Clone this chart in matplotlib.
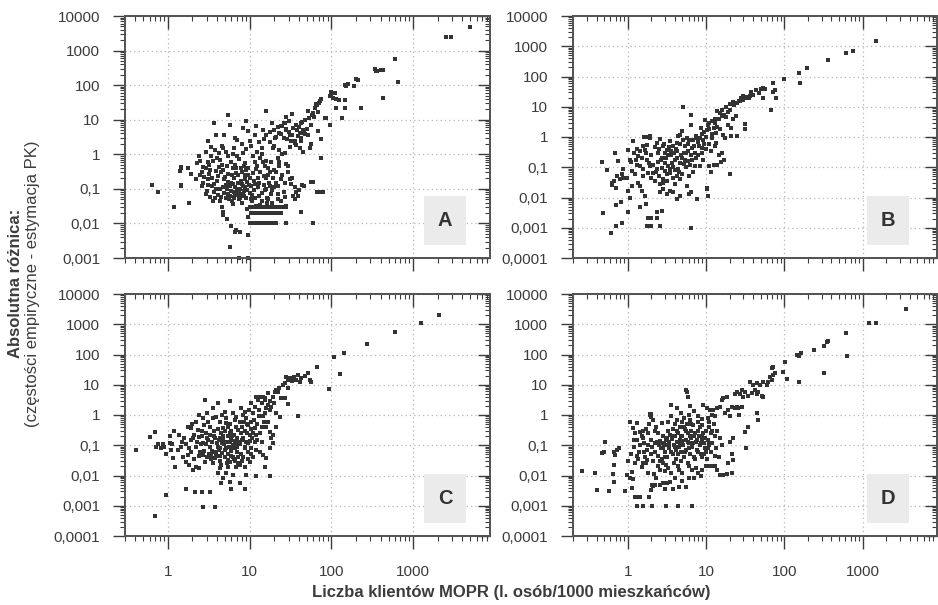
import numpy as np
import matplotlib
matplotlib.use('Agg')
from matplotlib import pyplot as plt
from matplotlib import ticker
from matplotlib.patches import Rectangle

plt.rcParams['font.family'] = ['Liberation Sans', 'DejaVu Sans']

# ---- dane: (liczba klientów MOPR, absolutna różnica) ----
panel_a = [
    # ogon
    (4900, 4700), (2500, 2500), (2900, 2400), (600, 570), (660, 120), (340, 300), (360, 260),
    (400, 280), (430, 270), (350, 250), (430, 43), (200, 150), (210, 140), (190, 92), (160, 110),
    (145, 100), (150, 95), (230, 22), (135, 11), (145, 22), (115, 22), (110, 59), (100, 49),
    (105, 43), (100, 65), (95, 48), (115, 40), (125, 38), (145, 36), (95, 7), (85, 11), (75, 40),
    (72, 35), (70, 31), (75, 2.7), (75, 0.8), (78, 0.08),
    # pas górny
    (19.3, 1.55), (20.5, 3), (23, 4.2), (24.5, 6.5), (27, 8.1), (28, 5.2), (31, 3.7), (34, 5.9),
    (37, 7.2), (39, 3.4), (41, 4.2), (45, 5.2), (43, 8.1), (47, 10), (35.5, 2.1), (41, 1.55),
    (43, 2.4), (52, 3.7), (54, 11), (60, 16), (66, 27), (72, 34), (63, 22), (52, 17.5), (57, 7.2),
    (69, 4.7), (83, 11), (65, 28), (58, 14), (62, 12), (68, 17), (50, 5.5), (44, 8.5),
    (40, 6), (38, 5), (33, 3.5), (30, 4.5), (28, 5.5), (25, 6.5), (22, 6), (24, 3.8), (26, 3.0),
    (29, 2.8), (32, 2.4), (36, 2.5), (42, 3.0), (46, 4.0), (47, 3.8), (55, 1.5), (57, 2.0),
    (45, 1.2), (37, 1.9), (31, 1.6), (27, 1.1), (23, 1.3), (16, 18), (12, 6.5), (14.5, 5.2),
    (15, 2.7), (14, 1.55), (9.1, 9.1), (9.5, 4.7), (8.3, 5.8), (5.4, 14), (4.9, 3.7), (5.8, 7.2),
    (6.6, 3.0), (3.7, 8.1), (3.9, 3.5), (3.1, 2.4), (4.6, 1.7), (4.7, 1.55), (28, 12), (33, 15),
    (30, 9), (26, 8), (18, 2.2), (20, 5), (21, 3.2),
    (6.5, 1.5), (8, 2), (10, 2.5), (11.5, 3.5), (13, 2.2), (16, 3.5), (18, 4.5), (19, 8),
    (7, 2.6), (4.2, 1.1), (3.4, 1.6),
    # skupisko
    (0.64, 0.13), (0.77, 0.08), (1.2, 0.03), (1.8, 0.04), (1.45, 0.39), (1.47, 0.44), (1.46, 0.13),
    (1.45, 0.12), (1.43, 0.33), (1.75, 0.39), (1.9, 0.27), (2.2, 0.19), (2.5, 0.64), (2.7, 0.44),
    (2.9, 0.39), (3.1, 0.58), (3.2, 0.48), (3.2, 0.27), (3.1, 0.19), (3.1, 0.13),
    (4.0, 0.77), (4.2, 0.44), (3.9, 0.33), (4.1, 0.24), (4.0, 0.17), (4.3, 0.1), (4.5, 0.058),
    (4.6, 0.03), (4.7, 0.021), (4.8, 0.018), (5.4, 0.9), (6.0, 0.58), (6.2, 0.39), (5.4, 0.27),
    (4.9, 0.19), (6.0, 0.15), (5.3, 0.1), (5.8, 0.063), (6.2, 0.036), (5.3, 0.013), (6.0, 0.0087),
    (6.9, 0.0063), (6.6, 0.0056), (7.6, 0.0056), (5.7, 0.0021), (7.4, 0.001), (9.7, 0.001),
    (9.7, 0.0045), (7.5, 0.72), (8.2, 1.1), (8.6, 0.46), (8.0, 0.3), (8.9, 0.19), (8.3, 0.12),
    (9.2, 0.09), (8.6, 0.063), (8.0, 0.04), (9.3, 0.026), (9.6, 0.015),
    (10.5, 1.7), (11, 0.9), (11.5, 0.58), (12, 0.37), (12.6, 0.21), (11.8, 0.14), (11.2, 0.09),
    (13, 0.063), (10.5, 0.051), (12, 0.033), (14, 1.0), (16, 0.65), (17, 0.41), (15, 0.24),
    (17.5, 0.15), (16, 0.1), (18.5, 0.07), (17, 0.051), (20, 1.7), (22, 0.8), (23, 0.46), (21, 0.3),
    (24.5, 0.19), (22, 0.12), (26, 0.08), (27, 0.057), (23, 0.58), (25, 1.0), (28, 0.51),
    (29.5, 0.3), (31, 0.19), (32, 0.14), (34, 0.063), (35.5, 0.051), (37, 0.08), (39, 0.063),
    (28, 0.033), (29.5, 0.46), (42, 0.021), (59, 0.0105), (44, 0.13), (46, 0.12), (57, 0.155),
    (60, 0.155), (66, 0.08), (75, 0.08),
    (3.4, 0.9), (3.6, 0.65), (3.5, 0.12), (3.7, 0.08), (3.8, 0.055), (4.4, 0.7), (4.6, 0.5),
    (4.8, 0.35), (5.0, 0.22), (5.1, 0.13), (5.5, 0.07), (5.6, 0.05), (6.1, 0.045), (6.4, 0.06),
    (6.5, 0.08), (6.7, 0.11), (6.4, 0.2), (6.8, 0.28), (6.6, 0.5), (7.0, 0.9), (7.2, 0.15),
    (7.0, 0.065), (7.4, 0.05), (7.8, 0.07), (7.6, 0.1), (7.9, 0.17), (8.8, 0.55), (9.0, 0.35),
    (9.5, 0.25), (9.8, 0.13), (10.2, 0.075), (10.8, 0.045), (2.4, 0.9), (2.6, 0.3), (2.8, 0.22),
    (2.6, 0.12), (3.0, 0.085), (3.3, 0.06), (3.6, 0.045), (2.9, 1.2), (3.8, 1.3), (5.2, 1.2),
    (6.3, 1.0), (9.0, 1.4), (12.5, 1.2), (13.5, 0.8), (15.5, 0.45), (18, 0.3), (19.5, 0.2),
    (20, 0.11), (22.5, 0.07), (24, 0.045), (14, 0.045), (13.5, 0.035), (16.5, 0.04), (19, 0.04),
    (25, 0.25), (27, 0.15), (33, 0.21), (36, 0.11), (40, 0.09),
    (2.3, 0.55), (2.5, 0.25), (2.7, 0.15), (2.9, 0.07), (3.3, 0.35), (3.5, 0.2), (3.7, 0.14),
    (3.9, 0.1), (4.1, 0.065), (4.3, 0.045), (4.5, 0.3), (4.7, 0.11), (4.9, 0.075), (5.1, 0.055),
    (5.3, 0.45), (5.5, 0.16), (5.7, 0.12), (5.9, 0.085), (6.1, 0.25), (6.3, 0.14), (6.5, 0.055),
    (6.7, 0.075), (6.9, 0.4), (7.1, 0.1), (7.3, 0.25), (7.5, 0.085), (7.7, 0.055), (7.9, 0.4),
    (8.1, 0.14), (8.3, 0.065), (8.5, 0.085), (8.7, 0.25), (8.9, 0.11), (9.1, 0.055), (9.4, 0.16),
    (9.7, 0.4), (10, 0.21), (10.3, 0.12), (10.6, 0.065), (11, 0.28), (11.4, 0.17), (11.8, 0.055),
    (12.2, 0.45), (12.6, 0.11), (13, 0.15), (13.5, 0.3), (14, 0.075), (14.5, 0.6), (15, 0.13),
    (15.5, 0.09), (16, 0.2), (16.5, 0.055), (17, 0.25), (18, 0.12), (18.5, 0.6), (19, 0.09),
    (20, 0.35), (21, 0.15), (22, 0.05),
    # rzędy 0,01 / 0,02 / 0,03
    (10, 0.01), (10.8, 0.01), (11.6, 0.01), (12.4, 0.01), (13.3, 0.01), (14.2, 0.01),
    (15.2, 0.01), (16.3, 0.01), (17.4, 0.01), (18.6, 0.01), (20, 0.01), (21, 0.01), (28, 0.01),
    (10.5, 0.02), (11.3, 0.02), (12.2, 0.02), (13.1, 0.02), (14.1, 0.02), (15.2, 0.02),
    (16.4, 0.02), (17.7, 0.02), (19, 0.02), (20.5, 0.02), (22, 0.02), (24.5, 0.02),
    (10, 0.03), (10.8, 0.03), (11.7, 0.03), (12.6, 0.03), (13.6, 0.03), (14.7, 0.03),
    (15.9, 0.03), (17.2, 0.03), (18.6, 0.03), (20, 0.03), (21.6, 0.03), (23.3, 0.03),
    (25, 0.03), (28, 0.03),
]

panel_b = [
    (1480, 1500), (760, 720), (610, 620), (360, 355), (196, 188), (155, 135), (158, 59), (98, 83),
    (72, 60), (78, 19), (68, 7.6), (72, 30), (75, 35), (54, 41), (57, 38), (54, 19), (47, 28),
    (40, 25), (36, 22), (33, 19), (30, 17), (27, 15), (25, 13), (23, 11), (33, 21), (35, 19),
    (31.6, 2.6), (31.6, 1.8), (21, 1.1), (25, 1.1), (20, 0.06),
    (0.47, 0.15), (0.55, 0.079), (0.49, 0.003), (0.61, 0.00065), (0.7, 0.0011), (0.84, 0.0014),
    (0.69, 0.3), (0.75, 0.16), (0.63, 0.031), (0.63, 0.025), (0.66, 0.035), (0.72, 0.051),
    (0.84, 0.059), (0.8, 0.04), (0.71, 0.021), (0.88, 0.045), (0.71, 0.0058), (0.81, 0.0069),
    (0.88, 0.089), (0.97, 0.045), (1.02, 0.38), (1.07, 0.18), (1.12, 0.076), (1.15, 0.024),
    (1.02, 0.017), (1.07, 0.01), (1.0, 0.0032), (1.18, 0.76), (1.29, 0.18), (1.31, 0.115),
    (1.44, 0.11), (1.37, 0.23), (1.5, 0.2), (1.58, 0.49), (1.66, 0.38), (1.74, 0.56), (1.9, 1.1),
    (1.78, 0.18), (1.93, 0.11), (1.84, 0.066), (1.58, 0.051), (1.44, 0.024), (1.5, 0.017),
    (1.66, 0.011), (1.69, 0.006), (1.44, 0.0048), (1.84, 0.0021), (2.0, 0.0021), (2.35, 0.0021),
    (1.74, 0.0011), (2.0, 0.0011), (2.6, 0.0011), (2.35, 0.0032), (2.75, 0.0036),
    (2.59, 0.86), (2.34, 0.64), (2.85, 0.49), (2.46, 0.3), (3.15, 0.38), (3.47, 0.72),
    (3.83, 0.49), (4.22, 0.64), (4.43, 1.05), (4.89, 1.53), (5.14, 0.82), (5.66, 0.93),
    (5.4, 0.49), (5.95, 0.34), (6.56, 0.44), (6.89, 0.82), (7.6, 0.93), (8.38, 0.93),
    (9.25, 0.82), (8.8, 0.44), (9.7, 3.7), (10.2, 1.74), (9.25, 0.18), (8.38, 0.11),
    (7.24, 0.11), (6.56, 0.18), (5.95, 0.16), (5.4, 0.18), (4.66, 0.14), (4.22, 0.2),
    (4.02, 0.18), (3.65, 0.14), (3.3, 0.11), (3.0, 0.14), (2.72, 0.096), (2.34, 0.085),
    (2.13, 0.066), (2.23, 0.035), (2.59, 0.027), (2.85, 0.04), (3.15, 0.059), (3.47, 0.066),
    (3.83, 0.045), (4.22, 0.051), (4.66, 0.04), (4.02, 0.027), (3.47, 0.017), (3.15, 0.013),
    (2.85, 0.019), (2.59, 0.015), (3.83, 0.015), (4.22, 0.0089), (4.66, 0.011), (5.66, 0.024),
    (6.37, 0.015), (7.6, 0.0089), (10.2, 0.021), (10.5, 0.0108), (5.14, 10), (6.37, 5.4),
    (4.66, 1.2), (6.37, 2.5),
    (16, 5), (17, 5.5), (18, 4.5), (19, 6.5), (20, 8), (14, 7), (15, 6), (13, 4), (12, 3.5),
    (11, 3), (10.5, 2.5), (12.5, 2), (14, 2.2), (15, 1.8), (16.5, 1.2), (17.5, 0.9), (13.5, 1.4),
    (12, 0.9), (11, 0.6), (11.5, 0.35), (13, 0.5), (14.5, 0.25), (15.5, 0.15), (12.5, 0.12),
    (11, 0.11), (17, 0.18), (13.5, 0.65), (9, 1.3), (8.5, 2), (7.5, 1.1), (8, 0.7), (10, 1.0),
    (9.5, 0.6), (19, 2.5), (22, 4), (24, 5), (21, 2), (16, 0.3), (14, 0.12), (10, 0.4),
    (11.5, 0.07), (10.2, 0.019), (7.6, 0.009), (6.4, 0.001), (6, 0.0126),
    (1.6, 1.0), (1.75, 1.0), (1.93, 0.9), (1.2, 0.3), (1.3, 0.4), (1.45, 0.35),
    (2.0, 0.25), (2.2, 0.45), (2.4, 0.15), (2.7, 0.2), (3.0, 0.3), (3.3, 0.25), (3.6, 0.35),
    (3.9, 0.3), (4.3, 0.35), (4.8, 0.25), (5.2, 0.3), (5.8, 0.6), (6.2, 0.12), (6.8, 0.07),
    (7.2, 0.3), (8.0, 0.25), (2.0, 0.045), (2.5, 0.05), (3.0, 0.075), (3.5, 0.09), (4.0, 0.08),
    (4.5, 0.07), (5.0, 0.06), (5.5, 0.1), (6.0, 0.05), (3.2, 0.035), (2.8, 0.03),
    (1.1, 0.15), (1.25, 0.06), (1.35, 0.03), (1.55, 0.09), (1.7, 0.3), (1.85, 0.14),
    (2.1, 0.12), (2.3, 0.07), (2.5, 0.4), (2.65, 0.18), (2.9, 0.6), (3.1, 0.2), (3.4, 0.45),
    (3.6, 0.25), (3.8, 0.1), (4.1, 0.4), (4.4, 0.09), (4.6, 0.6), (4.9, 0.2), (5.2, 0.13),
    (5.6, 0.3), (6.0, 0.8), (6.5, 0.25), (7.0, 0.5), (7.5, 0.2), (8.2, 0.5), (9.0, 0.3),
    (9.5, 1.5), (11, 1.8), (12, 1.3), (13, 2.8), (14.5, 4), (16, 8), (18, 10), (20, 12),
    (22, 14), (26, 16), (28, 20), (30, 22), (38, 30), (44, 35), (50, 40),
]

panel_c = [
    (0.41, 0.07), (0.61, 0.187), (0.69, 0.27), (0.76, 0.107), (0.87, 0.107), (0.89, 0.085),
    (0.95, 0.051), (1.07, 0.2), (1.13, 0.107), (1.15, 0.037), (1.23, 0.0186), (1.33, 0.07),
    (1.46, 0.09), (1.39, 0.22), (1.6, 0.17), (1.68, 0.107), (1.76, 0.048), (1.84, 0.079),
    (1.93, 0.149), (2.02, 0.17), (2.12, 0.22), (1.93, 0.36), (1.76, 0.39), (2.22, 0.6),
    (2.33, 0.32), (2.44, 0.19), (2.56, 0.107), (2.68, 0.78), (2.81, 0.47), (2.95, 0.25),
    (3.09, 0.149), (3.24, 0.09), (2.73, 0.048), (2.89, 0.029), (2.44, 0.0172), (2.22, 0.0195),
    (2.02, 0.0152), (1.84, 0.023), (1.68, 0.029), (1.53, 0.042), (3.39, 0.048), (3.56, 0.025),
    (3.73, 0.037), (3.91, 0.061), (4.1, 0.09), (4.29, 0.17), (4.5, 0.25), (4.71, 0.36),
    (4.29, 0.6), (3.91, 0.88), (3.56, 1.66), (4.1, 2.43), (4.94, 1.29), (5.18, 0.78),
    (5.43, 0.41), (5.69, 0.25), (5.97, 0.149), (6.25, 0.079), (4.94, 0.042), (4.5, 0.023),
    (4.29, 0.0172), (4.1, 0.0118), (4.71, 0.008), (4.5, 0.0055), (5.18, 0.0118), (5.43, 0.0195),
    (5.69, 0.029), (6.25, 0.042), (6.55, 0.079), (7.0, 0.17), (7.2, 0.32), (7.55, 0.6),
    (6.87, 0.88), (6.25, 1.14), (7.9, 1.66), (8.7, 1.29), (9.1, 0.78), (9.5, 0.47), (10, 0.22),
    (9.1, 0.131), (8.7, 0.079), (8.3, 0.042), (7.55, 0.023), (8.7, 0.0195), (9.1, 0.0104),
    (6.87, 0.0195), (6.25, 0.0104), (5.69, 0.0062), (5.97, 0.0037), (8.7, 0.0037),
    (7.55, 0.0055), (10, 0.029), (11, 0.042), (10.5, 0.079), (11.5, 0.131), (12.1, 0.22),
    (11.5, 0.36), (10.5, 0.6), (11, 1.14), (11.5, 1.89), (12.6, 3.13), (13.3, 4.0), (14.6, 4.0),
    (15.3, 3.13), (12.1, 4.0), (0.83, 0.079), (0.72, 0.09), (2.18, 0.0028), (2.63, 0.0028),
    (3.24, 0.0028), (2.68, 0.00093), (3.73, 0.00093), (1.68, 0.0037), (0.95, 0.00226),
    (0.69, 0.00047), (2.86, 3.13), (5.69, 2.98), (16, 0.39), (17.6, 0.28), (18.4, 0.17),
    (19.3, 0.22), (19.3, 0.116), (17.6, 0.079), (17.9, 0.0098), (12.1, 0.0098), (16, 0.037),
    (15.3, 0.0195), (14.6, 0.048), (13.3, 0.061), (16, 1.66), (16.8, 2.14), (17.6, 1.46),
    (18.4, 1.89), (19.3, 4.0), (20.2, 5.9), (22.2, 5.9), (23.3, 0.88), (21.2, 0.39),
    (24.4, 3.56), (26.8, 3.56), (29.7, 2.25), (25.6, 9.8), (29.5, 7.6), (28.1, 18.5),
    (29.5, 14.4), (30.9, 16.3), (36.6, 14.4), (40.9, 12.7), (42.9, 16.3), (39.1, 21),
    (39.1, 0.95), (51.8, 23.9), (54.3, 14.4), (56.9, 12.7), (66.1, 40), (93.6, 7.4),
    (126, 22.7), (109, 83), (143, 115), (271, 217), (603, 556), (1254, 1100), (2080, 1980),
    (2.3, 0.13), (2.6, 0.3), (2.9, 0.11), (3.1, 0.6), (3.3, 0.22), (3.5, 0.13), (3.7, 0.3),
    (3.8, 0.17), (4.0, 0.12), (4.2, 0.07), (4.4, 0.045), (4.6, 0.12), (4.8, 0.2), (5.0, 0.07),
    (5.2, 0.13), (5.4, 0.05), (5.6, 0.09), (5.8, 0.5), (6.0, 0.3), (6.4, 0.22), (6.8, 0.11),
    (7.0, 0.06), (7.4, 0.13), (7.8, 0.25), (8.0, 0.4), (8.4, 0.17), (8.8, 0.3), (9.3, 0.5),
    (9.7, 0.12), (10.3, 0.35), (10.8, 0.17), (11.2, 0.7), (12.5, 0.5), (13.5, 0.25), (14, 0.13),
    (14.5, 0.9), (13, 1.5), (15, 0.6), (3.4, 0.035), (3.8, 0.06), (4.4, 0.03), (5.3, 0.025),
    (6.0, 0.045), (6.6, 0.03), (7.2, 0.04), (8.0, 0.03), (9.5, 0.06), (2.5, 0.06), (2.8, 0.065),
    (3.0, 0.04), (3.6, 0.8), (4.6, 1.0), (5.2, 0.55), (6.6, 0.7), (8.2, 1.0), (9.8, 1.5),
    (10.5, 2.5), (2.0, 0.5), (2.4, 1.0), (3.0, 1.2), (1.9, 0.06), (2.1, 0.035), (1.5, 0.13),
    (1.2, 0.3), (1.1, 0.07), (1.05, 0.12), (14, 2.5), (15.5, 3.6), (17, 5.5), (21, 6.5),
    (23, 8), (27, 11), (33, 13), (35, 18), (47, 20),
    (2.2, 0.09), (2.4, 0.045), (2.6, 0.2), (2.7, 0.12), (3.0, 0.18), (3.2, 0.05), (3.3, 0.4),
    (3.5, 0.065), (3.7, 0.2), (3.9, 0.045), (4.1, 0.35), (4.2, 0.15), (4.4, 0.08),
    (4.6, 0.055), (4.7, 0.16), (4.9, 0.11), (5.0, 0.3), (5.2, 0.08), (5.4, 0.2), (5.5, 0.033),
    (5.7, 0.13), (5.9, 0.065), (6.1, 0.2), (6.2, 0.1), (6.5, 0.035), (6.7, 0.14), (6.9, 0.4),
    (7.1, 0.09), (7.3, 0.025), (7.6, 0.11), (7.8, 0.05), (8.1, 0.15), (8.5, 0.6), (8.9, 0.09),
    (9.2, 0.25), (9.6, 0.035), (10, 0.14), (10.4, 0.05), (11, 0.25), (12, 0.07), (12.5, 0.15),
    (13, 0.9), (14, 0.4), (15.5, 1.2), (17, 0.6), (18, 3), (20, 2.5), (21, 1.2),
]

panel_d = [
    (3575, 3150), (1217, 1100), (1480, 1100), (607, 530), (625, 92), (321, 25), (365, 290),
    (347, 250), (321, 190), (239, 138), (163, 115), (144, 96), (155, 92), (155, 12.6), (102, 58),
    (97, 27), (107, 16), (72.4, 40), (68.9, 35), (76, 24), (72.4, 21), (65.6, 18), (62.5, 12.7),
    (68.9, 14.4), (59.5, 10), (54, 12.7), (48.9, 10), (44.3, 11), (40.2, 10), (36.5, 12.7),
    (54, 4.0), (51.4, 4.4), (46.5, 5.9), (44.3, 4.8), (42.2, 6.5), (38.3, 5.2), (34.7, 4.4),
    (31.5, 5.9), (30, 4.0), (28.5, 6.5), (27.2, 4.8), (24.6, 5.9), (23.5, 4.8), (44.3, 1.14),
    (46.5, 0.68), (34.7, 0.41), (31.5, 0.27), (32.4, 0.083), (22.3, 0.17), (20.2, 0.131),
    (21.3, 0.05), (22.3, 0.032), (19.3, 0.025), (21.3, 0.0118), (18.4, 0.011), (16.6, 0.0104),
    (15.1, 0.0104),
    (10.2, 1.66), (11.2, 1.46), (12.4, 1.46), (13.7, 1.66), (15.1, 1.89), (15.8, 3.13),
    (16.6, 3.56), (18.4, 4.0), (19.3, 1.46), (21.3, 1.89), (23.5, 1.66), (24.6, 1.89),
    (25.9, 1.66), (28.5, 1.89), (20.2, 0.95), (17.5, 1.2), (26, 1.0),
    (0.26, 0.014), (0.38, 0.012), (0.40, 0.0033), (0.58, 0.0031), (0.47, 0.054), (0.51, 0.125),
    (0.5, 0.06), (0.66, 0.06), (0.69, 0.048), (0.78, 0.083), (0.72, 0.07), (0.64, 0.011),
    (0.67, 0.0063), (0.66, 0.022), (0.92, 0.0031), (0.97, 0.0105), (1.07, 0.008), (1.18, 0.0076),
    (1.12, 0.004), (1.24, 0.002), (1.3, 0.002), (1.44, 0.002), (1.51, 0.0195), (1.58, 0.025),
    (1.75, 0.032), (1.07, 0.6), (1.18, 0.36), (1.44, 0.28), (1.3, 0.15), (1.58, 0.17),
    (1.3, 0.001), (1.58, 0.001), (2.02, 0.001), (3.09, 0.001), (4.43, 0.001), (6.69, 0.001),
    (1.89, 0.002), (1.97, 0.0034), (2.13, 0.0046), (2.02, 0.005), (2.23, 0.005), (2.59, 0.005),
    (2.85, 0.0055), (3.15, 0.0055), (3.83, 0.0037),
    (1.0, 0.03), (1.1, 0.05), (1.15, 0.013), (1.2, 0.09), (1.25, 0.025), (1.35, 0.035),
    (1.4, 0.06), (1.45, 0.1), (1.5, 0.2), (1.55, 0.3), (1.6, 0.12), (1.65, 0.04), (1.7, 0.025),
    (1.75, 0.07), (1.8, 0.25), (1.85, 0.5), (1.9, 1.05), (1.95, 1.0), (2.0, 0.88), (2.0, 0.15),
    (2.05, 0.09), (2.1, 0.03), (2.15, 0.011), (2.2, 0.3), (2.25, 0.06), (2.3, 0.4), (2.35, 0.13),
    (2.4, 0.045), (2.45, 0.02), (2.5, 0.1), (2.55, 0.015), (2.6, 0.14), (2.65, 0.08),
    (2.7, 0.035), (2.75, 0.12), (2.8, 0.2), (2.85, 0.025), (2.9, 0.11), (2.95, 0.06),
    (3.0, 0.014), (3.05, 0.15), (3.1, 0.022), (3.15, 0.1), (3.2, 0.04), (3.25, 0.3),
    (3.3, 0.018), (3.35, 0.13), (3.4, 0.08), (3.5, 0.22), (3.55, 0.9), (3.6, 0.012),
    (3.7, 0.16), (3.75, 0.05), (3.8, 0.35), (3.9, 0.1), (3.95, 0.025), (4.0, 0.5), (4.05, 0.2),
    (4.1, 0.07), (4.15, 0.035), (4.2, 0.13), (4.3, 0.7), (4.35, 0.02), (4.4, 0.25), (4.5, 0.09),
    (4.55, 0.015), (4.6, 0.4), (4.7, 0.15), (4.8, 0.06), (4.85, 0.03), (4.9, 0.6), (5.0, 0.2),
    (5.1, 0.1), (5.2, 0.04), (5.3, 0.8), (5.4, 0.35), (5.5, 0.15), (5.56, 6.7), (5.66, 5.9),
    (5.83, 4.0), (5.6, 0.07), (5.7, 0.5), (5.8, 0.025), (5.9, 0.25), (6.0, 0.12), (6.2, 0.05),
    (6.3, 0.7), (6.4, 0.3), (6.5, 0.18), (6.6, 0.015), (6.7, 0.09), (6.8, 0.45), (7.0, 0.2),
    (7.2, 0.035), (7.4, 0.13), (7.6, 0.07), (7.8, 0.6), (8.0, 0.3), (8.2, 0.2), (8.4, 0.1),
    (8.6, 0.05), (8.8, 0.15), (9.0, 0.04), (9.2, 0.25), (9.4, 0.12), (9.6, 0.08), (9.8, 0.18),
    (10.0, 0.06), (10.2, 0.035), (10.5, 0.15), (10.8, 0.1), (11.0, 0.4), (11.5, 0.25),
    (12, 0.12), (12.5, 0.5), (13, 0.2), (13.5, 0.08), (14, 0.3), (15, 0.18), (16, 0.1),
    (14.5, 0.04), (12, 0.02), (13, 0.02), (11, 0.02), (10, 0.02), (9, 0.015), (8, 0.012),
    (7, 0.008), (6, 0.0085), (5, 0.0065), (4.5, 0.0042), (5.5, 0.0042), (3.61, 2.2),
    (4.22, 1.75), (6.25, 2.0), (9.25, 2.2), (2.0, 1.1), (2.1, 0.7), (1.25, 0.25), (1.2, 0.15),
    (1.3, 0.045), (4.8, 1.2), (6.0, 1.0), (7.0, 1.4), (8.0, 0.9), (9.0, 0.75), (10.5, 0.8),
    (12, 1.0), (13, 0.9), (3.3, 0.6), (2.7, 0.55), (1.7, 0.35), (1.3, 0.55),
    (1.6, 0.06), (1.8, 0.1), (2.0, 0.05), (2.2, 0.12), (2.4, 0.25), (2.6, 0.03), (2.8, 0.08),
    (3.0, 0.04), (3.2, 0.18), (3.4, 0.11), (3.6, 0.06), (3.8, 0.2), (4.0, 0.09), (4.2, 0.3),
    (4.4, 0.05), (4.6, 0.12), (4.8, 0.2), (5.0, 0.14), (5.2, 0.4), (5.4, 0.06), (5.6, 0.3),
    (5.8, 0.13), (6.0, 0.08), (6.2, 0.2), (6.5, 0.5), (6.8, 0.12), (7.0, 0.04), (7.3, 0.25),
    (7.6, 0.15), (8.0, 0.06), (8.3, 0.4), (8.6, 0.12), (9.0, 0.2), (9.4, 0.05), (10, 0.3),
    (10.5, 0.08), (11, 0.12), (11.5, 0.06), (12, 0.3), (13, 0.045), (14, 0.015), (11, 0.6),
    (9, 0.45), (3.0, 0.0035), (3.5, 0.006), (4.0, 0.008), (5.0, 0.012), (6.0, 0.02),
    (7.5, 0.018), (8.5, 0.01), (2.3, 0.008), (1.8, 0.012),
]

letters = ['A', 'B', 'C', 'D']
x_ticks = [1, 10, 100, 1000]
x_tick_labels = ['1', '10', '100', '1000']
y_ticks = [0.0001, 0.001, 0.01, 0.1, 1, 10, 100, 1000, 10000]
y_tick_labels = ['0,0001', '0,001', '0,01', '0,1', '1', '10', '100', '1000', '10000']

W, H = 938, 605
# (lewo, prawo, góra, dół) w pikselach
boxes = [(125, 490, 16, 258), (573, 937, 16, 258), (125, 490, 294, 536), (573, 937, 294, 536)]
xlims = [(0.3, 8700), (0.2, 8900), (0.3, 8700), (0.2, 8900)]
ylims = [(0.001, 10000), (0.0001, 10000), (0.0001, 10000), (0.0001, 10000)]

dark = '#3c3c3c'
fig = plt.figure(figsize=(W / 100, H / 100), dpi=100)


def minor_log(axis):
    axis.set_minor_locator(ticker.LogLocator(base=10, subs=np.arange(2, 10), numticks=100))
    axis.set_minor_formatter(ticker.NullFormatter())


for i, pts in enumerate([panel_a, panel_b, panel_c, panel_d]):
    l, r, t, b = boxes[i]
    ax = fig.add_axes([l / W, 1 - b / H, (r - l) / W, (b - t) / H])
    ax.set_xscale('log')
    ax.set_yscale('log')

    xs, ys = zip(*pts)
    ax.scatter(xs, ys, s=10, marker='s', color='#333333', linewidths=0, zorder=3, clip_on=False)

    ax.set_xlim(*xlims[i])
    ax.set_ylim(*ylims[i])

    # tylko znaczniki w zakresie osi
    yt = [(v, s) for v, s in zip(y_ticks, y_tick_labels) if ylims[i][0] <= v <= ylims[i][1]]
    yt_vals = [v for v, _ in yt]

    minor_log(ax.xaxis)
    minor_log(ax.yaxis)
    ax.xaxis.set_major_locator(ticker.FixedLocator(x_ticks))
    ax.xaxis.set_major_formatter(ticker.FixedFormatter(x_tick_labels))
    ax.yaxis.set_major_locator(ticker.FixedLocator(yt_vals))
    ax.yaxis.set_major_formatter(ticker.FixedFormatter([s for _, s in yt]))

    ax.grid(True, which='major', color='#b5b5b5', linestyle=(0, (1, 2.5)), linewidth=0.9, zorder=0)
    ax.set_axisbelow(True)

    ax.tick_params(axis='both', which='major', direction='out', length=9, width=1,
                   color=dark, labelcolor=dark, labelsize=11)
    ax.tick_params(axis='both', which='minor', direction='out', length=3.5, width=0.8, color=dark)
    ax.tick_params(axis='x', which='major', pad=12, labelbottom=(i >= 2))
    ax.tick_params(axis='y', which='major', pad=9)
    for s in ax.spines.values():
        s.set_color('#555555')
        s.set_linewidth(1.2)

    # zwierciadlane znaczniki do środka
    tx = ax.twiny()
    tx.set_xscale('log')
    tx.set_xlim(*xlims[i])
    minor_log(tx.xaxis)
    tx.xaxis.set_major_locator(ticker.FixedLocator(x_ticks))
    tx.xaxis.set_major_formatter(ticker.NullFormatter())
    tx.tick_params(axis='x', which='major', direction='in', length=9, width=1, color=dark,
                   labeltop=False)
    tx.tick_params(axis='x', which='minor', direction='in', length=3.5, width=0.8, color=dark)

    ty = ax.twinx()
    ty.set_yscale('log')
    ty.set_ylim(*ylims[i])
    minor_log(ty.yaxis)
    ty.yaxis.set_major_locator(ticker.FixedLocator(yt_vals))
    ty.yaxis.set_major_formatter(ticker.NullFormatter())
    ty.tick_params(axis='y', which='major', direction='in', length=9, width=1, color=dark,
                   labelright=False)
    ty.tick_params(axis='y', which='minor', direction='in', length=3.5, width=0.8, color=dark)
    for tw in (tx, ty):
        for s in tw.spines.values():
            s.set_color('#555555')
            s.set_linewidth(1.2)

    bx0 = 0.819 if i % 2 == 0 else 0.808
    ax.add_patch(Rectangle((bx0, 0.052), 0.115, 0.204, transform=ax.transAxes,
                           facecolor='#ebebeb', edgecolor='none', zorder=1))
    ax.text(bx0 + 0.0575, 0.154, letters[i], transform=ax.transAxes, ha='center', va='center',
            fontsize=14.5, fontweight='bold', color='#333333', zorder=2)

fig.text(0.545, 0.02, 'Liczba klientów MOPR (l. osób/1000 mieszkańców)', ha='center',
         va='center', fontsize=12, fontweight='bold', color=dark)
fig.text(0.016, 0.531, 'Absolutna różnica:', rotation=90, ha='center', va='center',
         fontsize=12, fontweight='bold', color=dark)
fig.text(0.035, 0.531, '(częstości empiryczne - estymacja PK)', rotation=90, ha='center',
         va='center', fontsize=12, color=dark)

fig.savefig('out.png', dpi=100)
